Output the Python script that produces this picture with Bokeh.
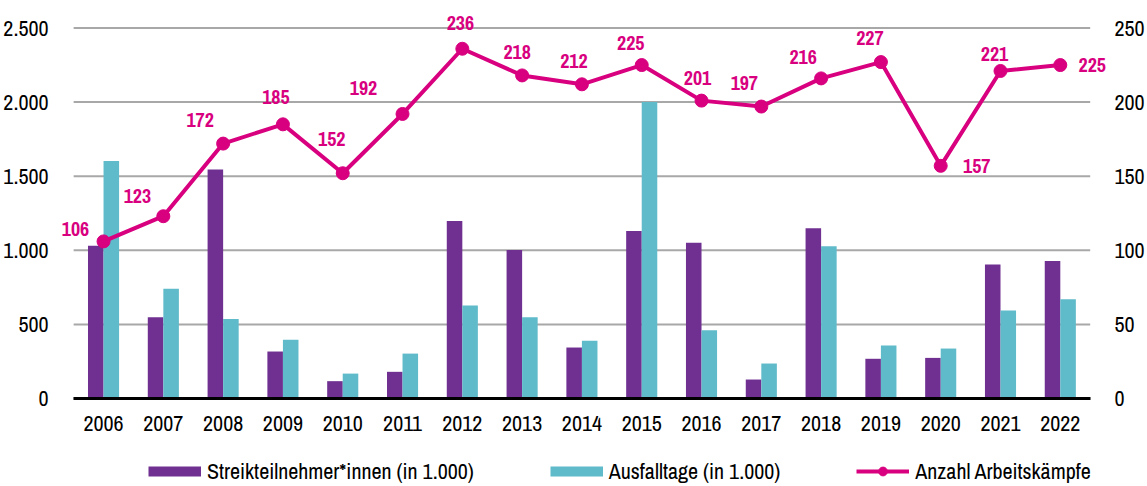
from bokeh.plotting import figure
from bokeh.models import (ColumnDataSource, Range1d, LinearAxis, FixedTicker,
                          LabelSet, Legend, LegendItem)
from bokeh.core.properties import value
from bokeh.embed import file_html
from bokeh.resources import INLINE

# ---- data ----
years = [str(y) for y in range(2006, 2023)]
streikende = [1030, 548, 1545, 317, 117, 180, 1198, 1002, 344, 1130, 1051, 128, 1148, 268, 274, 905, 928]
ausfalltage = [1602, 741, 537, 396, 168, 303, 627, 548, 389, 2000, 460, 236, 1027, 357, 337, 593, 669]
arbeitskaempfe = [106, 123, 172, 185, 152, 192, 236, 218, 212, 225, 201, 197, 216, 227, 157, 221, 225]
left_ticks = [0, 500, 1000, 1500, 2000, 2500]
left_tick_labels = ["0", "500", "1.000", "1.500", "2.000", "2.500"]
right_ticks = [0, 50, 100, 150, 200, 250]
series_names = ["Streikteilnehmer*innen (in 1.000)", "Ausfalltage (in 1.000)", "Anzahl Arbeitskämpfe"]

# label offsets (screen px) for the line labels
label_dx = [-28, -26, -23, -7, -11, -39, -2, -5, -8, -11, -4, -17, -18, -11, 36, -6, 32]
label_dy = [12, 20, 24, 27, 34, 26, 26, 23, 23, 22, 23, 24, 21, 24, 0, 17, 0]

PURPLE = "#6F3092"
TEAL = "#5FBAC9"
MAGENTA = "#D8007F"
FONT = "Archivo Narrow, PT Sans Narrow, Liberation Sans"
FS = "22px"
LFS = "20px"

xi = list(range(len(years)))
src = ColumnDataSource(dict(x=xi, s=streikende, a=ausfalltage, n=arbeitskaempfe,
                            lab=[str(v) for v in arbeitskaempfe], dx=label_dx, dy=label_dy))

# the frame fills the canvas so value labels and legend are not clipped
p = figure(width=1147, height=486, x_range=Range1d(-0.703, len(years) - 1 + 0.806),
           y_range=Range1d(-593.8, 2685.6), output_backend="svg", toolbar_location=None,
           min_border_left=60, min_border_right=30, min_border_top=0, min_border_bottom=0)
p.extra_y_ranges = {"right": Range1d(-59.38, 268.56)}
p.outline_line_color = None
p.xgrid.grid_line_color = None
p.ygrid.grid_line_color = None

# grid lines across the category extent
p.segment(x0=[-0.5] * len(left_ticks), x1=[len(years) - 0.5] * len(left_ticks),
          y0=left_ticks, y1=left_ticks, line_color="#A8A8A8", line_width=2, level="underlay")

p.vbar(x=[i - 0.13 for i in xi], top=streikende, width=0.26, fill_color=PURPLE, line_color=None)
p.vbar(x=[i + 0.13 for i in xi], top=ausfalltage, width=0.26, fill_color=TEAL, line_color=None)
ln = p.line(x="x", y="n", source=src, y_range_name="right", line_color=MAGENTA, line_width=4)
sc = p.scatter(x="x", y="n", source=src, y_range_name="right", size=13,
               fill_color=MAGENTA, line_color=MAGENTA)

# legend proxies (drawn only in the legend)
px1 = p.line(x=[float("nan")], y=[float("nan")], line_color=PURPLE, line_width=10, line_cap="butt")
px2 = p.line(x=[float("nan")], y=[float("nan")], line_color=TEAL, line_width=10, line_cap="butt")

labels = LabelSet(x="x", y="n", text="lab", source=src, y_range_name="right",
                  x_offset="dx", y_offset="dy", text_align="center", text_baseline="middle",
                  text_font=value(FONT), text_font_style="bold", text_font_size=LFS, text_color=MAGENTA)
p.add_layout(labels)

# axes
xa = p.xaxis[0]
xa.fixed_location = 0
xa.ticker = FixedTicker(ticks=xi)
xa.major_label_overrides = {i: y for i, y in zip(xi, years)}
xa.bounds = (-0.5, len(years) - 0.5)
xa.axis_line_color = "black"
xa.axis_line_width = 3
xa.major_tick_line_color = None
xa.minor_tick_line_color = None
xa.major_label_standoff = 11
xa.major_label_text_font = FONT
xa.major_label_text_font_size = FS
xa.major_label_text_color = "black"

ly = p.yaxis[0]
ly.ticker = FixedTicker(ticks=left_ticks)
ly.major_label_overrides = {t: l for t, l in zip(left_ticks, left_tick_labels)}
ly.axis_line_color = None
ly.major_tick_line_color = None
ly.minor_tick_line_color = None
ly.major_label_standoff = 7
ly.major_label_text_font = FONT
ly.major_label_text_font_size = FS
ly.major_label_text_color = "black"

ry = LinearAxis(y_range_name="right", ticker=FixedTicker(ticks=right_ticks))
ry.axis_line_color = None
ry.major_tick_line_color = None
ry.minor_tick_line_color = None
ry.major_label_standoff = 0
ry.major_label_text_font = FONT
ry.major_label_text_font_size = FS
ry.major_label_text_color = "black"
p.add_layout(ry, "right")

legend = Legend(items=[LegendItem(label=series_names[0], renderers=[px1]),
                       LegendItem(label=series_names[1], renderers=[px2]),
                       LegendItem(label=series_names[2], renderers=[ln, sc])],
                location=(87, 0), orientation="horizontal",
                glyph_width=53, glyph_height=22, label_height=22, label_standoff=6,
                padding=0, margin=0, spacing=76, border_line_color=None,
                background_fill_alpha=0, label_text_font=FONT, label_text_font_size=FS,
                label_text_color="black")
p.add_layout(legend)

open("out.html", "w").write(file_html(p, INLINE))
